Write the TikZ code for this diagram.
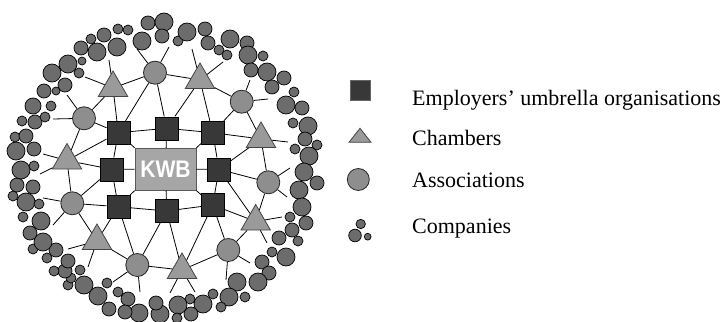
\documentclass[tikz,border=0pt]{standalone}
\usepackage{fontspec}
\usepackage{graphicx}
\setmainfont{Liberation Serif}
\newfontfamily\kwbfont{Liberation Sans}
\usetikzlibrary{shapes.geometric}
\definecolor{sqfill}{HTML}{383838}
\definecolor{trifill}{HTML}{9A9A9A}
\definecolor{tridraw}{HTML}{444444}
\definecolor{asfill}{HTML}{8E8E8E}
\definecolor{compfill}{HTML}{6C6C6C}
\definecolor{kwbfill}{HTML}{A6A6A6}
\tikzset{
  sq/.style={draw=black, fill=sqfill, minimum size=23pt, inner sep=0pt, line width=0.6pt},
  tri/.style={regular polygon, regular polygon sides=3, draw=tridraw, fill=trifill, minimum size=34pt, inner sep=0pt, line width=0.8pt},
  assoc/.style={circle, draw=black!85, fill=asfill, minimum size=23pt, inner sep=0pt, line width=0.8pt},
  link/.style={line width=0.8pt, black},
  comp/.style={fill=compfill, draw=black, line width=0.7pt},
  legtext/.style={anchor=base west, font=\fontsize{22}{26}\selectfont, inner sep=0pt}
}
\begin{document}
\begin{tikzpicture}[x=1pt,y=-1pt]
\useasboundingbox (0,0) rectangle (727,321);
% ---- company circles (radius code: 3,4,6,7,8)
\def\radof#1{\ifcase#1 0\or 0\or 0\or 4\or 5\or 0\or 7\or 8\or 9\fi}
\foreach \x/\y/\r in {
104/35/6,91/39/4,97/52/8,81/48/6,68/64/8,82/61/3,52/73/8,79/73/4,65/85/6,56/91/3,44/91/6,33/106/7,51/106/4,
118/29/4,128/30/4,117/47/8,142/41/8,148/23/6,164/22/8,162/36/6,178/41/4,187/32/8,205/29/6,208/43/6,219/50/4,
230/39/8,247/43/6,227/55/4,248/55/8,263/56/4,251/70/6,267/72/8,284/78/6,272/87/6,294/92/4,286/105/8,302/108/6,
293/123/4,308/126/8,305/139/6,295/149/4,317/145/4,309/156/8,304/172/8,317/183/6,299/190/8,302/207/8,
290/217/4,306/223/6,292/230/6,279/238/6,298/241/4,272/252/4,286/257/8,262/262/6,269/273/6,258/282/8,237/282/8,245/297/4,229/297/8,213/294/4,221/307/4,
203/304/8,190/299/4,191/314/6,178/305/8,177/318/4,160/314/8,156/303/6,139/313/8,128/299/6,125/312/6,118/292/4,109/309/6,107/283/4,98/296/8,84/285/8,68/285/4,
80/270/4,71/278/4,65/271/6,54/271/4,68/261/6,47/258/4,56/250/6,33/249/4,43/242/8,30/233/6,41/221/8,23/217/4,
26/202/8,39/204/4,13/196/4,17/185/6,33/187/6,21/170/8,34/166/4,16/151/8,34/149/6,15/137/4,26/136/6,22/121/4,35/122/6,45/117/4}
  {\path[comp] (\x,\y) circle[radius=\radof{\r} pt];}
% ---- nodes
\node[rectangle, draw=black!65, fill=kwbfill, line width=0.8pt, minimum width=61pt, minimum height=42pt, inner sep=0pt,
      text=white, font=\kwbfont\bfseries\fontsize{24}{24}\selectfont] (kwb) at (165.5,169.2) {\scalebox{0.88}[1]{KWB}};
\node[sq] (sTL) at (118.3,132.7) {};
\node[sq] (sTC) at (166.7,128.3) {};
\node[sq] (sTR) at (212.7,132.7) {};
\node[sq] (sL)  at (111.7,169.3) {};
\node[sq] (sR)  at (219,169.3) {};
\node[sq] (sBL) at (118.3,206.7) {};
\node[sq] (sBC) at (166.7,211) {};
\node[sq] (sBR) at (212.7,205) {};
\node[tri] (tA) at (113,88) {};
\node[tri] (tB) at (200,80) {};
\node[tri] (tC) at (261,139) {};
\node[tri] (tD) at (67,160.5) {};
\node[tri] (tE) at (255.7,221.5) {};
\node[tri] (tF) at (97,241) {};
\node[tri] (tG) at (182,270) {};
\node[assoc] (cA) at (155,72.7) {};
\node[assoc] (cB) at (241.7,101.7) {};
\node[assoc] (cC) at (84,118.3) {};
\node[assoc] (cD) at (268.3,182.3) {};
\node[assoc] (cE) at (72.3,203.3) {};
\node[assoc] (cF) at (228.3,250) {};
\node[assoc] (cG) at (137.3,265) {};
% ---- spoke ends
\foreach \n/\x/\y in {a1/137/49,a2/169/47,a3/109/60,a4/85/77,a5/192/49,a6/223/62,a7/67/95,a8/53/119,
  a9/250/80,a10/268/99,a11/288/142,a12/43/154,a13/40/174,a14/290/168,a15/287/197,a16/43/198,a17/53/225,
  a18/282/217,a19/267/243,a20/68/249,a21/88/267,a22/226/280,a23/250/263,a24/113/282,a25/140/292,a26/170/293,a27/195/292}
  {\coordinate (\n) at (\x,\y);}
\foreach \a/\b in {cA/a1,cA/a2,tA/a3,tA/a4,tB/a5,tB/a6,cC/a7,cC/a8,cB/a9,cB/a10,tC/a11,tD/a12,tD/a13,
  cD/a14,cD/a15,cE/a16,cE/a17,tE/a18,tE/a19,tF/a20,tF/a21,cF/a22,cF/a23,cG/a24,cG/a25,tG/a26,tG/a27}
  {\draw[link] (\a) -- (\b);}
\foreach \a/\b in {sTL/sTC,sTC/sTR,sTR/sR,sR/sBR,sBR/sBC,sBC/sBL,sBL/sL,sL/sTL,
  sTC/kwb,sL/kwb,sR/kwb,sBC/kwb,sTL/kwb.north west,sTR/kwb.north east,sBL/kwb.south west,sBR/kwb.south east,
  sTL/tA,sTL/cA,sTL/cC,sTL/tD,sTC/cA,sTC/tB,sTR/tB,sTR/cB,sTR/tC,sL/tD,sL/cE,sR/tC,sR/cD,sR/tE,
  sBL/cE,sBL/tF,sBL/cG,sBC/cG,sBC/tG,sBR/tG,sBR/cF,sBR/tE,
  cA/tA,cA/tB,tA/cC,cC/tD,tD/cE,cE/tF,tF/cG,cG/tG,tG/cF,cF/tE,tE/cD,cD/tC,tC/cB,cB/tB}
  {\draw[link] (\a) -- (\b);}
% ---- legend
\node[draw=black!60, fill=sqfill, minimum size=20pt, inner sep=0pt, line width=0.5pt] (lsq) at (360.7,90) {};
\draw[draw=tridraw, fill=trifill, line width=0.8pt] (349,142.3) -- (360,128.3) -- (371,142.3) -- cycle;
\node[assoc, minimum size=22pt] (lci) at (358.3,179.5) {};
\path[comp] (360.7,224) circle[radius=4.7pt];
\path[comp] (355,235.5) circle[radius=6.3pt];
\path[comp] (367.7,236.7) circle[radius=3.4pt];
\node[legtext] (l1) at (412,105) {Employers’ umbrella organisations};
\node[legtext] (l2) at (412,145) {Chambers};
\node[legtext] (l3) at (412,187) {Associations};
\node[legtext] (l4) at (412,233) {Companies};
\end{tikzpicture}
\end{document}
